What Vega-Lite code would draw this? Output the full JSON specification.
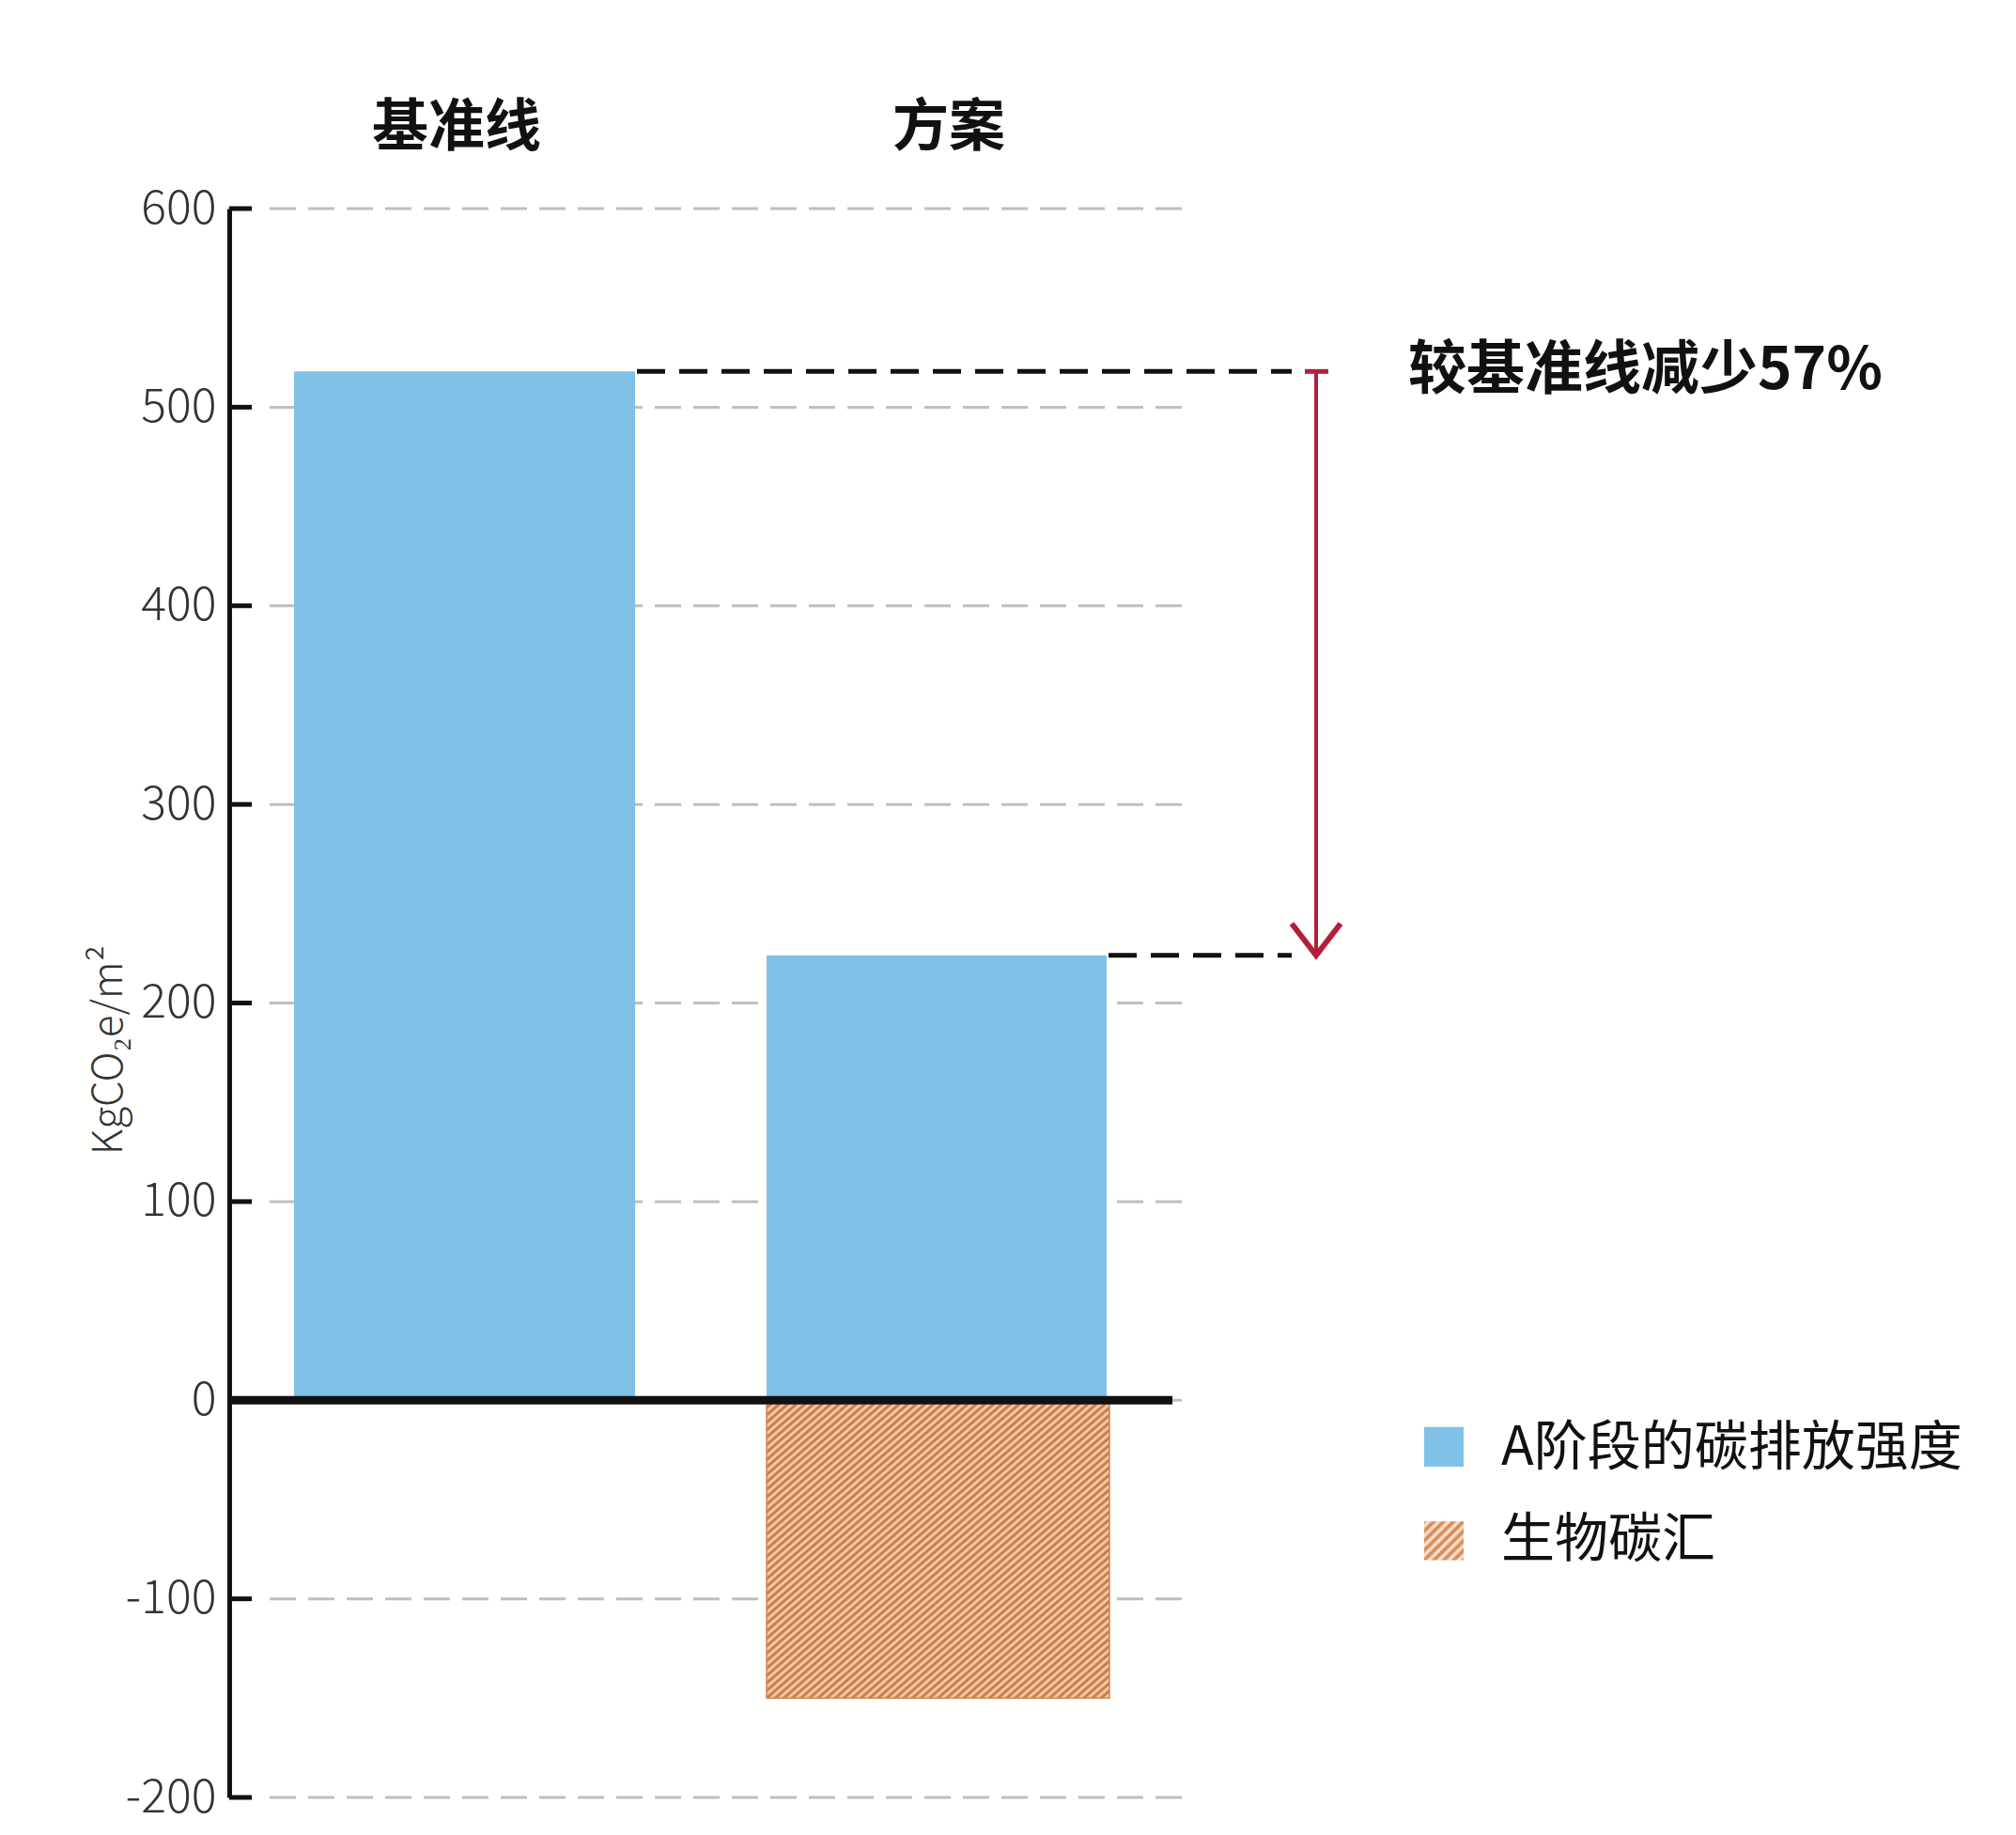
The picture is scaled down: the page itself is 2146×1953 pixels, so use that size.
{
  "$schema": "https://vega.github.io/schema/vega-lite/v6.json",
  "width": 1015,
  "height": 1691,
  "autosize": {"type": "none"},
  "padding": {"left": 244, "top": 222, "right": 887, "bottom": 40},
  "background": "#FFFFFD",
  "config": {"view": {"stroke": null}, "axisX": {"disable": true}, "font": "Noto Sans CJK SC"},
  "datasets": {
    "bars": [
      {"series": "基准线", "category": "A阶段的碳排放强度", "value": 518},
      {"series": "方案", "category": "A阶段的碳排放强度", "value": 224},
      {"series": "方案", "category": "生物碳汇", "value": -150}
    ],
    "ticks": [{"tick": -200}, {"tick": -100}, {"tick": 0}, {"tick": 100}, {"tick": 200}, {"tick": 300}, {"tick": 400}, {"tick": 500}, {"tick": 600}],
    "legend": [{"category": "A阶段的碳排放强度"}, {"category": "生物碳汇"}],
    "note": [{"text": "较基准线减少57%"}]
  },
  "layer": [
    {
      "data": {"name": "ticks"},
      "mark": {"type": "rule", "color": "#bfbfbf", "strokeWidth": 3, "strokeDash": [28, 13]},
      "encoding": {
        "y": {"field": "tick", "type": "quantitative", "title": "KgCO₂e/m²",
          "scale": {"domain": [-200, 600], "nice": false, "zero": false},
          "axis": {"values": [-200, -100, 0, 100, 200, 300, 400, 500, 600], "grid": false, "ticks": false, "tickSize": 0,
            "domain": true, "domainColor": "#111111", "domainWidth": 5,
            "labelExpr": "'' + datum.value",
            "labelFontSize": 50, "labelFont": "Noto Sans CJK SC", "labelFontWeight": 300, "labelColor": "#333333", "labelPadding": 14,
            "title": "KgCO₂e/m²", "titleFont": "Noto Sans CJK SC", "titleFontSize": 44, "titleFontWeight": 300, "titleColor": "#333333",
            "titleAngle": -90, "titleX": -115, "titleY": 895, "titleAlign": "center", "titleBaseline": "alphabetic"}},
        "x": {"datum": 43, "type": "quantitative", "scale": {"domain": [0, 1015], "nice": false, "zero": false}, "axis": null},
        "x2": {"datum": 1015}
      }
    },
    {
      "data": {"name": "ticks"},
      "mark": {"type": "rule", "color": "#111111", "strokeWidth": 5},
      "encoding": {
        "y": {"field": "tick", "type": "quantitative", "title": "KgCO₂e/m²"},
        "x": {"datum": 0, "type": "quantitative", "axis": null},
        "x2": {"datum": 24}
      }
    },
    {
      "data": {"name": "bars"},
      "transform": [{"filter": "datum.series === '基准线' && datum.category === 'A阶段的碳排放强度'"}],
      "mark": {"type": "rect", "color": "#80C1E7"},
      "encoding": {
        "x": {"datum": 69, "type": "quantitative", "axis": null},
        "x2": {"datum": 432},
        "y": {"field": "value", "type": "quantitative", "title": "KgCO₂e/m²"},
        "y2": {"datum": 0}
      }
    },
    {
      "data": {"name": "bars"},
      "transform": [{"filter": "datum.series === '方案' && datum.category === 'A阶段的碳排放强度'"}],
      "mark": {"type": "rect", "color": "#80C1E7"},
      "encoding": {
        "x": {"datum": 572, "type": "quantitative", "axis": null},
        "x2": {"datum": 934},
        "y": {"field": "value", "type": "quantitative", "title": "KgCO₂e/m²"},
        "y2": {"datum": 0}
      }
    },
    {
      "data": {"name": "bars"},
      "transform": [{"filter": "datum.category === '生物碳汇'"}],
      "mark": {"type": "rect", "stroke": "#D08550", "strokeWidth": 1.5,
        "fill": {"gradient": "linear", "x1": 0, "y1": 0, "x2": 1, "y2": 1, "stops": [
          {"offset": 0, "color": "#c46a34"}, {"offset": 0.00625, "color": "#f8d9bb"}, {"offset": 0.0125, "color": "#c46a34"}, {"offset": 0.01875, "color": "#f8d9bb"}, {"offset": 0.025, "color": "#c46a34"}, {"offset": 0.03125, "color": "#f8d9bb"}, {"offset": 0.0375, "color": "#c46a34"}, {"offset": 0.04375, "color": "#f8d9bb"},
          {"offset": 0.05, "color": "#c46a34"}, {"offset": 0.05625, "color": "#f8d9bb"}, {"offset": 0.0625, "color": "#c46a34"}, {"offset": 0.06875, "color": "#f8d9bb"}, {"offset": 0.075, "color": "#c46a34"}, {"offset": 0.08125, "color": "#f8d9bb"}, {"offset": 0.0875, "color": "#c46a34"}, {"offset": 0.09375, "color": "#f8d9bb"},
          {"offset": 0.1, "color": "#c46a34"}, {"offset": 0.10625, "color": "#f8d9bb"}, {"offset": 0.1125, "color": "#c46a34"}, {"offset": 0.11875, "color": "#f8d9bb"}, {"offset": 0.125, "color": "#c46a34"}, {"offset": 0.13125, "color": "#f8d9bb"}, {"offset": 0.1375, "color": "#c46a34"}, {"offset": 0.14375, "color": "#f8d9bb"},
          {"offset": 0.15, "color": "#c46a34"}, {"offset": 0.15625, "color": "#f8d9bb"}, {"offset": 0.1625, "color": "#c46a34"}, {"offset": 0.16875, "color": "#f8d9bb"}, {"offset": 0.175, "color": "#c46a34"}, {"offset": 0.18125, "color": "#f8d9bb"}, {"offset": 0.1875, "color": "#c46a34"}, {"offset": 0.19375, "color": "#f8d9bb"},
          {"offset": 0.2, "color": "#c46a34"}, {"offset": 0.20625, "color": "#f8d9bb"}, {"offset": 0.2125, "color": "#c46a34"}, {"offset": 0.21875, "color": "#f8d9bb"}, {"offset": 0.225, "color": "#c46a34"}, {"offset": 0.23125, "color": "#f8d9bb"}, {"offset": 0.2375, "color": "#c46a34"}, {"offset": 0.24375, "color": "#f8d9bb"},
          {"offset": 0.25, "color": "#c46a34"}, {"offset": 0.25625, "color": "#f8d9bb"}, {"offset": 0.2625, "color": "#c46a34"}, {"offset": 0.26875, "color": "#f8d9bb"}, {"offset": 0.275, "color": "#c46a34"}, {"offset": 0.28125, "color": "#f8d9bb"}, {"offset": 0.2875, "color": "#c46a34"}, {"offset": 0.29375, "color": "#f8d9bb"},
          {"offset": 0.3, "color": "#c46a34"}, {"offset": 0.30625, "color": "#f8d9bb"}, {"offset": 0.3125, "color": "#c46a34"}, {"offset": 0.31875, "color": "#f8d9bb"}, {"offset": 0.325, "color": "#c46a34"}, {"offset": 0.33125, "color": "#f8d9bb"}, {"offset": 0.3375, "color": "#c46a34"}, {"offset": 0.34375, "color": "#f8d9bb"},
          {"offset": 0.35, "color": "#c46a34"}, {"offset": 0.35625, "color": "#f8d9bb"}, {"offset": 0.3625, "color": "#c46a34"}, {"offset": 0.36875, "color": "#f8d9bb"}, {"offset": 0.375, "color": "#c46a34"}, {"offset": 0.38125, "color": "#f8d9bb"}, {"offset": 0.3875, "color": "#c46a34"}, {"offset": 0.39375, "color": "#f8d9bb"},
          {"offset": 0.4, "color": "#c46a34"}, {"offset": 0.40625, "color": "#f8d9bb"}, {"offset": 0.4125, "color": "#c46a34"}, {"offset": 0.41875, "color": "#f8d9bb"}, {"offset": 0.425, "color": "#c46a34"}, {"offset": 0.43125, "color": "#f8d9bb"}, {"offset": 0.4375, "color": "#c46a34"}, {"offset": 0.44375, "color": "#f8d9bb"},
          {"offset": 0.45, "color": "#c46a34"}, {"offset": 0.45625, "color": "#f8d9bb"}, {"offset": 0.4625, "color": "#c46a34"}, {"offset": 0.46875, "color": "#f8d9bb"}, {"offset": 0.475, "color": "#c46a34"}, {"offset": 0.48125, "color": "#f8d9bb"}, {"offset": 0.4875, "color": "#c46a34"}, {"offset": 0.49375, "color": "#f8d9bb"},
          {"offset": 0.5, "color": "#c46a34"}, {"offset": 0.50625, "color": "#f8d9bb"}, {"offset": 0.5125, "color": "#c46a34"}, {"offset": 0.51875, "color": "#f8d9bb"}, {"offset": 0.525, "color": "#c46a34"}, {"offset": 0.53125, "color": "#f8d9bb"}, {"offset": 0.5375, "color": "#c46a34"}, {"offset": 0.54375, "color": "#f8d9bb"},
          {"offset": 0.55, "color": "#c46a34"}, {"offset": 0.55625, "color": "#f8d9bb"}, {"offset": 0.5625, "color": "#c46a34"}, {"offset": 0.56875, "color": "#f8d9bb"}, {"offset": 0.575, "color": "#c46a34"}, {"offset": 0.58125, "color": "#f8d9bb"}, {"offset": 0.5875, "color": "#c46a34"}, {"offset": 0.59375, "color": "#f8d9bb"},
          {"offset": 0.6, "color": "#c46a34"}, {"offset": 0.60625, "color": "#f8d9bb"}, {"offset": 0.6125, "color": "#c46a34"}, {"offset": 0.61875, "color": "#f8d9bb"}, {"offset": 0.625, "color": "#c46a34"}, {"offset": 0.63125, "color": "#f8d9bb"}, {"offset": 0.6375, "color": "#c46a34"}, {"offset": 0.64375, "color": "#f8d9bb"},
          {"offset": 0.65, "color": "#c46a34"}, {"offset": 0.65625, "color": "#f8d9bb"}, {"offset": 0.6625, "color": "#c46a34"}, {"offset": 0.66875, "color": "#f8d9bb"}, {"offset": 0.675, "color": "#c46a34"}, {"offset": 0.68125, "color": "#f8d9bb"}, {"offset": 0.6875, "color": "#c46a34"}, {"offset": 0.69375, "color": "#f8d9bb"},
          {"offset": 0.7, "color": "#c46a34"}, {"offset": 0.70625, "color": "#f8d9bb"}, {"offset": 0.7125, "color": "#c46a34"}, {"offset": 0.71875, "color": "#f8d9bb"}, {"offset": 0.725, "color": "#c46a34"}, {"offset": 0.73125, "color": "#f8d9bb"}, {"offset": 0.7375, "color": "#c46a34"}, {"offset": 0.74375, "color": "#f8d9bb"},
          {"offset": 0.75, "color": "#c46a34"}, {"offset": 0.75625, "color": "#f8d9bb"}, {"offset": 0.7625, "color": "#c46a34"}, {"offset": 0.76875, "color": "#f8d9bb"}, {"offset": 0.775, "color": "#c46a34"}, {"offset": 0.78125, "color": "#f8d9bb"}, {"offset": 0.7875, "color": "#c46a34"}, {"offset": 0.79375, "color": "#f8d9bb"},
          {"offset": 0.8, "color": "#c46a34"}, {"offset": 0.80625, "color": "#f8d9bb"}, {"offset": 0.8125, "color": "#c46a34"}, {"offset": 0.81875, "color": "#f8d9bb"}, {"offset": 0.825, "color": "#c46a34"}, {"offset": 0.83125, "color": "#f8d9bb"}, {"offset": 0.8375, "color": "#c46a34"}, {"offset": 0.84375, "color": "#f8d9bb"},
          {"offset": 0.85, "color": "#c46a34"}, {"offset": 0.85625, "color": "#f8d9bb"}, {"offset": 0.8625, "color": "#c46a34"}, {"offset": 0.86875, "color": "#f8d9bb"}, {"offset": 0.875, "color": "#c46a34"}, {"offset": 0.88125, "color": "#f8d9bb"}, {"offset": 0.8875, "color": "#c46a34"}, {"offset": 0.89375, "color": "#f8d9bb"},
          {"offset": 0.9, "color": "#c46a34"}, {"offset": 0.90625, "color": "#f8d9bb"}, {"offset": 0.9125, "color": "#c46a34"}, {"offset": 0.91875, "color": "#f8d9bb"}, {"offset": 0.925, "color": "#c46a34"}, {"offset": 0.93125, "color": "#f8d9bb"}, {"offset": 0.9375, "color": "#c46a34"}, {"offset": 0.94375, "color": "#f8d9bb"},
          {"offset": 0.95, "color": "#c46a34"}, {"offset": 0.95625, "color": "#f8d9bb"}, {"offset": 0.9625, "color": "#c46a34"}, {"offset": 0.96875, "color": "#f8d9bb"}, {"offset": 0.975, "color": "#c46a34"}, {"offset": 0.98125, "color": "#f8d9bb"}, {"offset": 0.9875, "color": "#c46a34"}, {"offset": 0.99375, "color": "#f8d9bb"},
          {"offset": 1, "color": "#c46a34"}
        ]}},
      "encoding": {
        "x": {"datum": 572, "type": "quantitative", "axis": null},
        "x2": {"datum": 937},
        "y": {"field": "value", "type": "quantitative", "title": "KgCO₂e/m²"},
        "y2": {"datum": 0}
      }
    },
    {
      "data": {"name": "ticks"},
      "transform": [{"filter": "datum.tick === 0"}],
      "mark": {"type": "rule", "color": "#111111", "strokeWidth": 9},
      "encoding": {
        "y": {"field": "tick", "type": "quantitative", "title": "KgCO₂e/m²"},
        "x": {"datum": 0, "type": "quantitative", "axis": null},
        "x2": {"datum": 1004}
      }
    },
    {
      "data": {"name": "bars"},
      "transform": [{"filter": "datum.series === '基准线' && datum.category === 'A阶段的碳排放强度'"}],
      "mark": {"type": "rule", "color": "#111111", "strokeWidth": 5, "strokeDash": [30, 15]},
      "encoding": {
        "y": {"field": "value", "type": "quantitative", "title": "KgCO₂e/m²"},
        "x": {"datum": 434, "type": "quantitative", "axis": null},
        "x2": {"datum": 1131}
      }
    },
    {
      "data": {"name": "bars"},
      "transform": [{"filter": "datum.series === '方案' && datum.category === 'A阶段的碳排放强度'"}],
      "mark": {"type": "rule", "color": "#111111", "strokeWidth": 5, "strokeDash": [30, 15]},
      "encoding": {
        "y": {"field": "value", "type": "quantitative", "title": "KgCO₂e/m²"},
        "x": {"datum": 936, "type": "quantitative", "axis": null},
        "x2": {"datum": 1131}
      }
    },
    {
      "data": {"name": "bars"},
      "transform": [{"filter": "datum.category === 'A阶段的碳排放强度'"}],
      "mark": {"type": "rule", "color": "#B31E3C", "strokeWidth": 4},
      "encoding": {
        "y": {"aggregate": "max", "field": "value", "type": "quantitative", "title": "KgCO₂e/m²"},
        "y2": {"aggregate": "min", "field": "value"},
        "x": {"datum": 1157, "type": "quantitative", "axis": null}
      }
    },
    {
      "data": {"name": "bars"},
      "transform": [{"filter": "datum.category === 'A阶段的碳排放强度'"}],
      "mark": {"type": "rule", "color": "#B31E3C", "strokeWidth": 5},
      "encoding": {
        "y": {"aggregate": "max", "field": "value", "type": "quantitative", "title": "KgCO₂e/m²"},
        "x": {"datum": 1145, "type": "quantitative", "axis": null},
        "x2": {"datum": 1170}
      }
    },
    {
      "data": {"name": "bars"},
      "transform": [{"filter": "datum.category === 'A阶段的碳排放强度'"}],
      "mark": {"type": "point", "shape": "M-1,-1.3L0,0L1,-1.3", "size": 2704, "filled": false, "stroke": "#B31E3C", "strokeWidth": 6, "opacity": 1, "strokeJoin": "miter"},
      "encoding": {
        "y": {"aggregate": "min", "field": "value", "type": "quantitative", "title": "KgCO₂e/m²"},
        "x": {"datum": 1157, "type": "quantitative", "axis": null}
      }
    },
    {
      "data": {"name": "note"},
      "mark": {"type": "text", "align": "left", "baseline": "middle", "fontSize": 62, "fontWeight": "bold", "font": "Noto Sans CJK SC", "color": "#111111"},
      "encoding": {
        "text": {"field": "text"},
        "x": {"datum": 1255, "type": "quantitative", "axis": null},
        "y": {"datum": 518, "type": "quantitative", "title": "KgCO₂e/m²"}
      }
    },
    {
      "data": {"name": "bars"},
      "transform": [{"filter": "datum.series === '基准线' && datum.category === 'A阶段的碳排放强度'"}],
      "mark": {"type": "text", "align": "center", "baseline": "middle", "fontSize": 60, "fontWeight": "bold", "font": "Noto Sans CJK SC", "color": "#111111"},
      "encoding": {
        "text": {"field": "series"},
        "x": {"datum": 242, "type": "quantitative", "axis": null},
        "y": {"datum": 640, "type": "quantitative", "title": "KgCO₂e/m²"}
      }
    },
    {
      "data": {"name": "bars"},
      "transform": [{"filter": "datum.series === '方案' && datum.category === 'A阶段的碳排放强度'"}],
      "mark": {"type": "text", "align": "center", "baseline": "middle", "fontSize": 60, "fontWeight": "bold", "font": "Noto Sans CJK SC", "color": "#111111"},
      "encoding": {
        "text": {"field": "series"},
        "x": {"datum": 766, "type": "quantitative", "axis": null},
        "y": {"datum": 640, "type": "quantitative", "title": "KgCO₂e/m²"}
      }
    },
    {
      "data": {"name": "legend"},
      "transform": [{"filter": "datum.category === 'A阶段的碳排放强度'"}],
      "mark": {"type": "rect", "color": "#80C1E7"},
      "encoding": {
        "x": {"datum": 1272, "type": "quantitative", "axis": null},
        "x2": {"datum": 1314},
        "y": {"datum": -13.5, "type": "quantitative", "title": "KgCO₂e/m²"},
        "y2": {"datum": -33.5}
      }
    },
    {
      "data": {"name": "legend"},
      "transform": [{"filter": "datum.category === '生物碳汇'"}],
      "mark": {"type": "rect",
        "fill": {"gradient": "linear", "x1": 0, "y1": 0, "x2": 1, "y2": 1, "stops": [
          {"offset": 0, "color": "#d27a40"}, {"offset": 0.0625, "color": "#fbeee2"}, {"offset": 0.125, "color": "#d27a40"}, {"offset": 0.1875, "color": "#fbeee2"},
          {"offset": 0.25, "color": "#d27a40"}, {"offset": 0.3125, "color": "#fbeee2"}, {"offset": 0.375, "color": "#d27a40"}, {"offset": 0.4375, "color": "#fbeee2"},
          {"offset": 0.5, "color": "#d27a40"}, {"offset": 0.5625, "color": "#fbeee2"}, {"offset": 0.625, "color": "#d27a40"}, {"offset": 0.6875, "color": "#fbeee2"},
          {"offset": 0.75, "color": "#d27a40"}, {"offset": 0.8125, "color": "#fbeee2"}, {"offset": 0.875, "color": "#d27a40"}, {"offset": 0.9375, "color": "#fbeee2"},
          {"offset": 1, "color": "#d27a40"}
        ]}},
      "encoding": {
        "x": {"datum": 1272, "type": "quantitative", "axis": null},
        "x2": {"datum": 1314},
        "y": {"datum": -61, "type": "quantitative", "title": "KgCO₂e/m²"},
        "y2": {"datum": -80.5}
      }
    },
    {
      "data": {"name": "legend"},
      "transform": [{"filter": "datum.category === 'A阶段的碳排放强度'"}],
      "mark": {"type": "text", "align": "left", "baseline": "middle", "fontSize": 57, "font": "Noto Sans CJK SC", "color": "#111111"},
      "encoding": {
        "text": {"field": "category"},
        "x": {"datum": 1354, "type": "quantitative", "axis": null},
        "y": {"datum": -24.5, "type": "quantitative", "title": "KgCO₂e/m²"}
      }
    },
    {
      "data": {"name": "legend"},
      "transform": [{"filter": "datum.category === '生物碳汇'"}],
      "mark": {"type": "text", "align": "left", "baseline": "middle", "fontSize": 57, "font": "Noto Sans CJK SC", "color": "#111111"},
      "encoding": {
        "text": {"field": "category"},
        "x": {"datum": 1354, "type": "quantitative", "axis": null},
        "y": {"datum": -71, "type": "quantitative", "title": "KgCO₂e/m²"}
      }
    }
  ]
}
